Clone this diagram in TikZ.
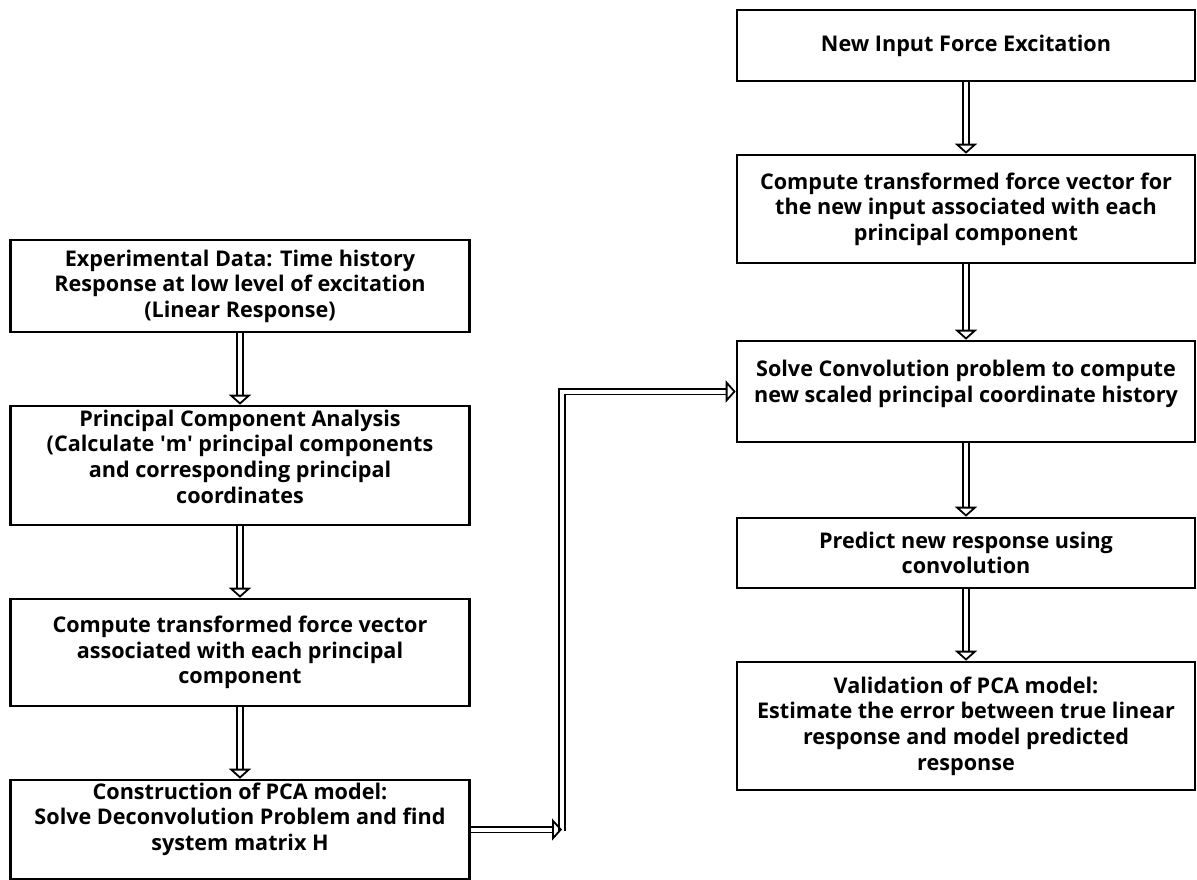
\documentclass[tikz,border=0pt]{standalone}
\usepackage{fontspec}
\setmainfont{Open Sans}
\usetikzlibrary{arrows.meta}

\begin{document}
\begin{tikzpicture}[x=0.5pt,y=-0.5pt]
\tikzstyle{stepbox}=[rectangle, draw, line width=1.3pt, align=center,
    font=\fontsize{10.8}{12.8}\selectfont\bfseries, inner sep=0pt]
\tikzstyle{dblarrow}=[double, double distance=2pt, line width=0.9pt,
    -{Triangle[open,width=11pt,length=5pt,line width=0.9pt]}]
\useasboundingbox (0,0) rectangle (1197,879);

% left column
\node[stepbox, minimum width=229.5pt, minimum height=46pt] (exp) at (240,286)
    {Experimental Data: Time history\\Response at low level of excitation\\(Linear Response)};
\node[stepbox, minimum width=229.5pt, minimum height=59.5pt, text depth=9pt] (pca) at (240,465.5)
    {Principal Component Analysis\\(Calculate \textquotesingle m\textquotesingle\ principal components\\and corresponding principal\\coordinates};
\node[stepbox, minimum width=229.5pt, minimum height=53.5pt] (force) at (240,652.5)
    {Compute transformed force vector\\associated with each principal\\component};
\node[stepbox, minimum width=229.5pt, minimum height=49.5pt, text depth=13pt] (model) at (240,829.5)
    {Construction of PCA model:\\Solve Deconvolution Problem and find\\system matrix H};

% right column
\node[stepbox, minimum width=229pt, minimum height=35.5pt] (newin) at (966,45.5)
    {New Input Force Excitation};
\node[stepbox, minimum width=229pt, minimum height=54pt] (newforce) at (966,209)
    {Compute transformed force vector for\\the new input associated with each\\principal component};
\node[stepbox, minimum width=229pt, minimum height=50.5pt, text depth=10pt] (conv) at (966,391.5)
    {Solve Convolution problem to compute\\new scaled principal coordinate history};
\node[stepbox, minimum width=229pt, minimum height=35pt] (predict) at (966,553)
    {Predict new response using\\convolution};
\node[stepbox, minimum width=229pt, minimum height=64pt] (valid) at (966,726)
    {Validation of PCA model:\\Estimate the error between true linear\\response and model predicted\\response};

% connectors
\draw[dblarrow] (exp) -- (pca);
\draw[dblarrow] (pca) -- (force);
\draw[dblarrow] (force) -- (model);

\draw[dblarrow] (newin) -- (newforce);
\draw[dblarrow] (newforce) -- (conv);
\draw[dblarrow] (conv) -- (predict);
\draw[dblarrow] (predict) -- (valid);

\coordinate (bend) at (562,831);
\draw[dblarrow] (bend) |- (conv.west);
\draw[dblarrow] (model.east |- 0,829.5) -- (562,829.5);

\end{tikzpicture}
\end{document}
